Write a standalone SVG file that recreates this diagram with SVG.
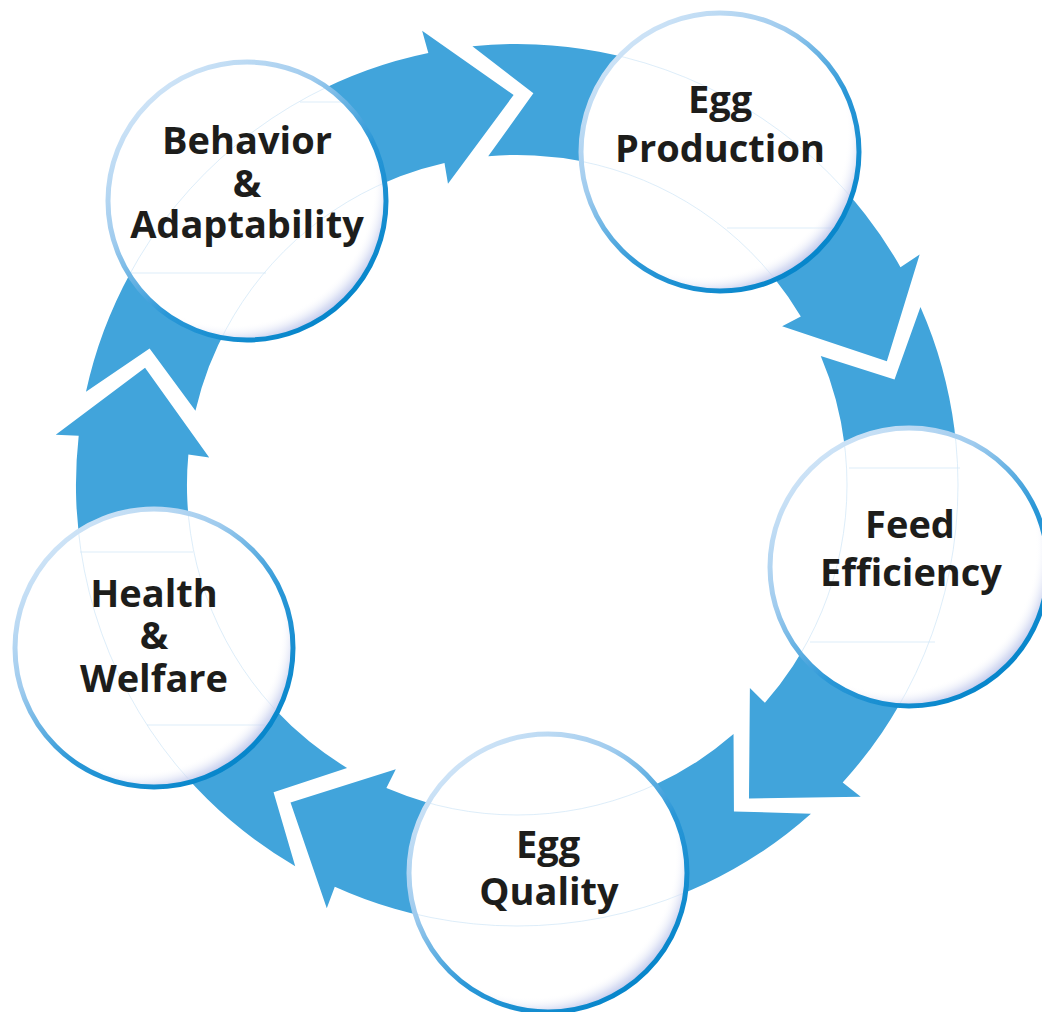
<svg xmlns="http://www.w3.org/2000/svg" width="1042" height="1012" viewBox="0 0 1042 1012">
  <defs>
    <style>
      .arrow { fill: #41a4db; }
      .node-bg { fill: #ffffff; }
      .node-rim { fill: none; stroke: url(#rimGrad); stroke-width: 5; }
      .node-shade { fill: url(#shadeGrad); }
      .ghost { fill: none; stroke: #cfe6f7; stroke-width: 0.9; opacity: 0.8; }
      .label { font-family: "Open Sans", "Liberation Sans", sans-serif; font-weight: 700; font-size: 38px; fill: #1d1d1b; text-anchor: middle; }
    </style>
    <linearGradient id="rimGrad" x1="0.1" y1="0.05" x2="0.85" y2="0.95">
      <stop offset="0" stop-color="#dbeaf9"/>
      <stop offset="0.35" stop-color="#9fcbee"/>
      <stop offset="0.62" stop-color="#2a97d7"/>
      <stop offset="1" stop-color="#0083c9"/>
    </linearGradient>
    <radialGradient id="shadeGrad" cx="0.44" cy="0.43" r="0.6">
      <stop offset="0" stop-color="#ffffff" stop-opacity="0"/>
      <stop offset="0.86" stop-color="#ffffff" stop-opacity="0"/>
      <stop offset="0.94" stop-color="#c6ceee" stop-opacity="0.6"/>
      <stop offset="1" stop-color="#a6b3e4" stop-opacity="0.95"/>
    </radialGradient>
    <path id="arrowShape" d="M -430.2 -96.9 A 441 441 0 0 1 -84.9 -432.8 L -90.9 -455.0 L 0 -390 L -66.4 -301.8 L -69.7 -322.6 A 330 330 0 0 0 -320.9 -77.0 L -366.2 -139.8 Z"/>
    <clipPath id="c1"><circle cx="247" cy="201" r="137"/></clipPath>
    <clipPath id="c2"><circle cx="720" cy="152" r="137"/></clipPath>
    <clipPath id="c3"><circle cx="909" cy="567" r="137"/></clipPath>
    <clipPath id="c4"><circle cx="548" cy="873" r="137"/></clipPath>
    <clipPath id="c5"><circle cx="154" cy="648" r="137"/></clipPath>
  </defs>

  <g id="connectors">
    <use href="#arrowShape" class="arrow" transform="translate(517 485) rotate(-0.5)"/>
    <use href="#arrowShape" class="arrow" transform="translate(517 485) rotate(71.5)"/>
    <use href="#arrowShape" class="arrow" transform="translate(517 485) rotate(143.5)"/>
    <use href="#arrowShape" class="arrow" transform="translate(517 485) rotate(215.5)"/>
    <use href="#arrowShape" class="arrow" transform="translate(517 485) rotate(287.5)"/>
  </g>

  <g id="node-behavior">
    <circle class="node-bg" cx="247" cy="201" r="139"/>
    <g clip-path="url(#c1)">
      <circle class="ghost" cx="517" cy="485" r="441"/>
      <circle class="ghost" cx="517" cy="485" r="330"/>
      <line class="ghost" x1="300" y1="102" x2="345" y2="102"/>
      <line class="ghost" x1="128" y1="273" x2="266" y2="273"/>
    </g>
    <circle class="node-shade" cx="247" cy="201" r="139"/>
    <circle class="node-rim" cx="247" cy="201" r="139"/>
    <text class="label" x="247" y="154">Behavior</text>
    <text class="label" x="247" y="197">&amp;</text>
    <text class="label" x="247" y="238">Adaptability</text>
  </g>

  <g id="node-egg-production">
    <circle class="node-bg" cx="720" cy="152" r="139"/>
    <g clip-path="url(#c2)">
      <circle class="ghost" cx="517" cy="485" r="441"/>
      <circle class="ghost" cx="517" cy="485" r="330"/>
      <line class="ghost" x1="727" y1="228" x2="845" y2="228"/>
    </g>
    <circle class="node-shade" cx="720" cy="152" r="139"/>
    <circle class="node-rim" cx="720" cy="152" r="139"/>
    <text class="label" x="720" y="113">Egg</text>
    <text class="label" x="720" y="162">Production</text>
  </g>

  <g id="node-feed-efficiency">
    <circle class="node-bg" cx="909" cy="567" r="139"/>
    <g clip-path="url(#c3)">
      <circle class="ghost" cx="517" cy="485" r="441"/>
      <circle class="ghost" cx="517" cy="485" r="330"/>
      <line class="ghost" x1="849" y1="468" x2="960" y2="468"/>
      <line class="ghost" x1="810" y1="642" x2="935" y2="642"/>
    </g>
    <circle class="node-shade" cx="909" cy="567" r="139"/>
    <circle class="node-rim" cx="909" cy="567" r="139"/>
    <text class="label" x="910" y="538">Feed</text>
    <text class="label" x="911" y="586">Efficiency</text>
  </g>

  <g id="node-egg-quality">
    <circle class="node-bg" cx="548" cy="873" r="139"/>
    <g clip-path="url(#c4)">
      <circle class="ghost" cx="517" cy="485" r="441"/>
      <circle class="ghost" cx="517" cy="485" r="330"/>
    </g>
    <circle class="node-shade" cx="548" cy="873" r="139"/>
    <circle class="node-rim" cx="548" cy="873" r="139"/>
    <text class="label" x="548" y="858">Egg</text>
    <text class="label" x="549" y="905">Quality</text>
  </g>

  <g id="node-health-welfare">
    <circle class="node-bg" cx="154" cy="648" r="139"/>
    <g clip-path="url(#c5)">
      <circle class="ghost" cx="517" cy="485" r="441"/>
      <circle class="ghost" cx="517" cy="485" r="330"/>
      <line class="ghost" x1="80" y1="552" x2="193" y2="552"/>
      <line class="ghost" x1="147" y1="725" x2="265" y2="725"/>
    </g>
    <circle class="node-shade" cx="154" cy="648" r="139"/>
    <circle class="node-rim" cx="154" cy="648" r="139"/>
    <text class="label" x="154" y="607">Health</text>
    <text class="label" x="154" y="649">&amp;</text>
    <text class="label" x="154" y="692">Welfare</text>
  </g>
</svg>
